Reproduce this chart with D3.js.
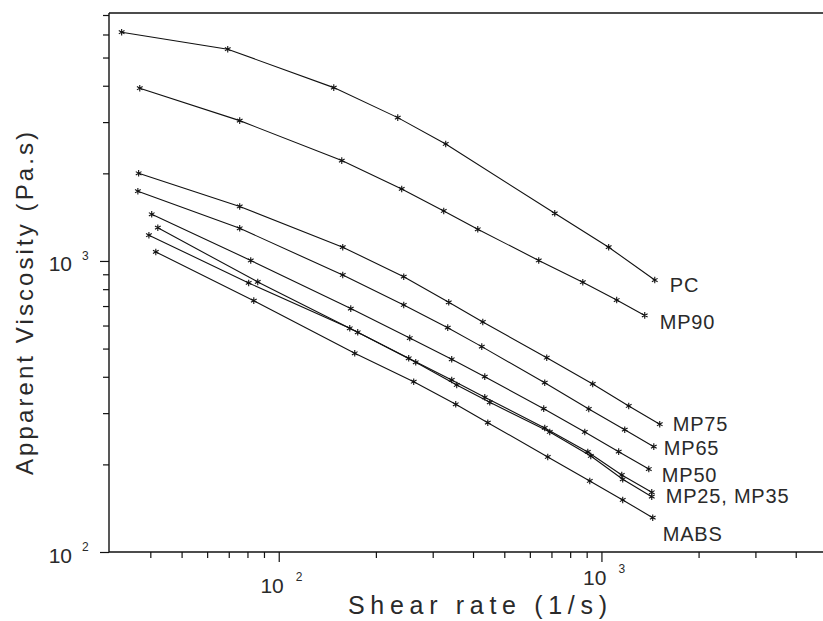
<!DOCTYPE html>
<html>
<head>
<meta charset="utf-8">
<title>Apparent viscosity vs shear rate</title>
<script src="https://d3js.org/d3.v7.min.js"></script>
<style>
  body { margin: 0; background: #fff; }
  svg { display: block; font-family: "Liberation Sans", Arial, sans-serif; }
  .lbl { fill: #2a2a2a; }
</style>
</head>
<body>
<div id="chart"></div>
<script>
// shear rate (1/s) and apparent viscosity (Pa.s)
const shearPC   = [32.6, 69.5, 148.1, 233.8, 329.2, 716.7, 1053, 1463];
const viscPC    = [6109, 5340, 3941, 3108, 2523, 1458, 1115, 860];
const shearMP90 = [37.1, 75.7, 156.8, 240.5, 324.6, 413.8, 639.3, 875.5, 1115, 1362];
const viscMP90  = [3922, 3035, 2212, 1768, 1485, 1285, 1004, 845, 734, 650];
const shearMP75 = [36.8, 75.7, 157.9, 244, 336.4, 428.9, 676.9, 939.7, 1215, 1516];
const viscMP75  = [2001, 1539, 1115, 883, 721, 617, 465, 378, 317.5, 274.8];
const shearMP65 = [36.6, 75.7, 157.9, 244, 334, 425.8, 667.3, 913.6, 1181, 1453];
const viscMP65  = [1736, 1295, 895, 706, 590, 507.7, 381.7, 310, 263.2, 230.1];
const shearMP50 = [40.4, 81.9, 167.2, 254.7, 343.6, 435, 662.5, 888, 1131, 1402];
const viscMP50  = [1447, 1004, 686, 543.6, 459.4, 400.4, 310.8, 258.5, 221.2, 192.8];
const shearMP25 = [39.6, 80.7, 166, 252.8, 343.6, 435, 667.3, 907.2, 1156, 1432];
const viscMP25  = [1226, 840.3, 587.2, 463, 390, 340.1, 266.8, 220.7, 183.9, 160.4];
const shearMP35 = [42.2, 86.1, 175.7, 265.8, 356.1, 450.8, 691.6, 926.8, 1164, 1432];
const viscMP35  = [1301, 847, 568.9, 448.6, 374.9, 326.9, 258.5, 213.8, 177.8, 154.9];
const shearMABS = [41.6, 83.7, 172, 262, 353.6, 444.5, 681.8, 920.2, 1164, 1442];
const viscMABS  = [1074, 730.4, 481.7, 384.7, 321.8, 278.2, 212.1, 175.4, 150.9, 131.2];

const seriesNames = ["PC", "MP90", "MP75", "MP65", "MP50", "MP25", "MP35", "MABS"];
const curveLabels = ["PC", "MP90", "MP75", "MP65", "MP50", "MP25,  MP35", "MABS"];
const xMajorTicks = [100, 1000];
const xMinorTicks = [40, 50, 60, 70, 80, 90, 200, 300, 400, 500, 600, 700, 800, 900, 2000, 3000, 4000];
const yMajorTicks = [100, 1000];
const yMinorTicks = [200, 300, 400, 500, 600, 700, 800, 900, 2000, 3000, 4000, 5000, 6000, 7000];

const shears = [shearPC, shearMP90, shearMP75, shearMP65, shearMP50, shearMP25, shearMP35, shearMABS];
const viscs  = [viscPC, viscMP90, viscMP75, viscMP65, viscMP50, viscMP25, viscMP35, viscMABS];
const series = seriesNames.map((name, i) => ({
  name: name,
  pts: shears[i].map((s, j) => [s, viscs[i][j]])
}));

const W = 823, H = 621;
const svg = d3.select("#chart").append("svg")
  .attr("width", W).attr("height", H);

const x = d3.scaleLog().domain([30, 5000]).range([110, 827]);
const y = d3.scaleLog().domain([100, 7000]).range([552, 15]);

// frame: top line
svg.append("line")
  .attr("x1", 109).attr("x2", W).attr("y1", 13).attr("y2", 13)
  .attr("stroke", "#111").attr("stroke-width", 1.4);

// axes (ticks only, labels drawn separately with superscripts)
function axisG(axis, tr) {
  const g = svg.append("g").attr("transform", tr).call(axis);
  g.selectAll("text").remove();
  g.selectAll("line").attr("stroke", "#111").attr("stroke-width", 1.2);
  g.select(".domain").remove();
  return g;
}
axisG(d3.axisBottom(x).tickValues(xMinorTicks).tickSize(6).tickFormat(""), "translate(0,552)");
axisG(d3.axisBottom(x).tickValues(xMajorTicks).tickSize(10).tickFormat(""), "translate(0,552)");
axisG(d3.axisLeft(y).tickValues(yMinorTicks).tickSize(6).tickFormat(""), "translate(109,0)");
axisG(d3.axisLeft(y).tickValues(yMajorTicks).tickSize(9).tickFormat(""), "translate(109,0)");

svg.append("line")
  .attr("x1", 109).attr("x2", W).attr("y1", 552).attr("y2", 552)
  .attr("stroke", "#111").attr("stroke-width", 1.4);
svg.append("line")
  .attr("x1", 109).attr("x2", 109).attr("y1", 13).attr("y2", 552)
  .attr("stroke", "#111").attr("stroke-width", 1.4);

// tick labels 10^n
xMajorTicks.forEach((t, i) => {
  const px = x(t);
  const base = i == 0 ? 593 : 585;
  svg.append("text").attr("class", "lbl")
    .attr("x", px + 5).attr("y", base)
    .attr("text-anchor", "end").attr("font-size", 21)
    .text("10");
  svg.append("text").attr("class", "lbl")
    .attr("x", px + 17).attr("y", base - 12)
    .attr("font-size", 12)
    .text(Math.round(Math.log10(t)));
});
yMajorTicks.forEach(t => {
  const py = y(t);
  svg.append("text").attr("class", "lbl")
    .attr("x", 72).attr("y", py + 10.5)
    .attr("text-anchor", "end").attr("font-size", 21)
    .text("10");
  svg.append("text").attr("class", "lbl")
    .attr("x", 82).attr("y", py - 1)
    .attr("font-size", 12)
    .text(Math.round(Math.log10(t)));
});

// axis titles
svg.append("text").attr("class", "lbl")
  .attr("x", 348).attr("y", 614)
  .attr("font-size", 25)
  .attr("textLength", 259).attr("lengthAdjust", "spacing")
  .text("Shear rate (1/s)");
svg.append("text").attr("class", "lbl")
  .attr("transform", "translate(33,475) rotate(-90)")
  .attr("font-size", 24)
  .attr("textLength", 343).attr("lengthAdjust", "spacing")
  .text("Apparent Viscosity (Pa.s)");

// curves
const line = d3.line().x(d => x(d[0])).y(d => y(d[1]));
const star = d3.symbol(d3.symbolAsterisk, 30);

series.forEach(s => {
  svg.append("path")
    .datum(s.pts)
    .attr("d", line)
    .attr("fill", "none").attr("stroke", "#111").attr("stroke-width", 1.1);
  svg.append("g").selectAll("path")
    .data(s.pts).join("path")
    .attr("transform", d => `translate(${x(d[0])},${y(d[1])})`)
    .attr("d", star)
    .attr("fill", "none").attr("stroke", "#111").attr("stroke-width", 1.1);
});

// curve labels, placed relative to the last point of a curve
const labelFrom = [0, 1, 2, 3, 4, 5, 7];
const labelShift = [[15, 12], [15, 14], [13, 7], [10, 8], [13, 13], [14, 11], [10, 23]];
curveLabels.forEach((txt, i) => {
  const pts = series[labelFrom[i]].pts;
  const last = pts[pts.length - 1];
  svg.append("text").attr("class", "lbl")
    .attr("x", x(last[0]) + labelShift[i][0])
    .attr("y", y(last[1]) + labelShift[i][1])
    .attr("font-size", 20)
    .attr("letter-spacing", 0.8)
    .text(txt);
});
</script>
</body>
</html>
